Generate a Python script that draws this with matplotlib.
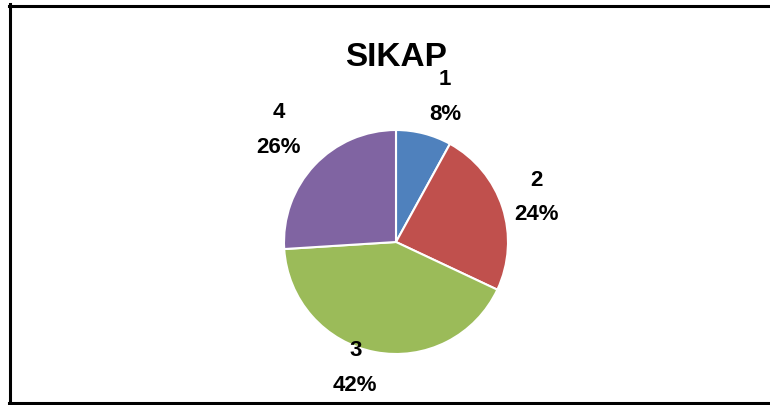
import matplotlib
matplotlib.use("Agg")
import matplotlib.pyplot as plt
import numpy as np
from matplotlib.lines import Line2D

# ---------------- data ---------------------------------------------------
CATEGORIES = ["1", "2", "3", "4"]
PERCENTS = [8, 24, 42, 26]
COLORS = ["#4F81BD", "#C0504D", "#9BBB59", "#8064A2"]
TITLE = "SIKAP"

# label placement relative to slice mid-angle (distance in radii, angle shift in deg)
LABEL_DIST = [1.375, 1.32, 1.175, 1.455]
LABEL_SHIFT = [-4.2, 0.0, -7.2, -0.8]

W, H, DPI = 770, 406, 100
CX, CY, R = 396, 243, 112   # pie centre / radius in pixels (from top)

plt.rcParams["font.family"] = ["Liberation Sans", "DejaVu Sans"]

fig = plt.figure(figsize=(W / DPI, H / DPI), dpi=DPI)
ax = fig.add_axes([0, 0, 1, 1])
ax.set_axis_off()

wedges, _ = ax.pie(PERCENTS, colors=COLORS, startangle=90, counterclock=False,
                   radius=1.0, wedgeprops=dict(edgecolor="white", linewidth=1.5))

# map 1 data unit to R pixels
ax.set_xlim(-CX / R, (W - CX) / R)
ax.set_ylim(-(H - CY) / R, CY / R)

for w, cat, pct, d, s in zip(wedges, CATEGORIES, PERCENTS, LABEL_DIST, LABEL_SHIFT):
    ang = np.deg2rad((w.theta1 + w.theta2) / 2 + s)
    ax.text(d * np.cos(ang), d * np.sin(ang), f"{cat}\n{pct}%",
            ha="center", va="center", fontsize=16, fontweight="bold",
            linespacing=1.85)

fig.text(CX / W, 1 - 57 / H, TITLE, ha="center", va="center",
         fontsize=24, fontweight="bold")

# chart-area border (left, top, bottom only)
lw = 2.2
fig.add_artist(Line2D([10 / W, 10 / W], [1 - 5 / H, 1 - 404 / H],
                      color="black", lw=lw, transform=fig.transFigure))
fig.add_artist(Line2D([9 / W, 1], [1 - 6.5 / H, 1 - 6.5 / H],
                      color="black", lw=lw, transform=fig.transFigure))
fig.add_artist(Line2D([9 / W, 1], [1 - 403.5 / H, 1 - 403.5 / H],
                      color="black", lw=lw, transform=fig.transFigure))

fig.savefig("out.png", dpi=DPI)
